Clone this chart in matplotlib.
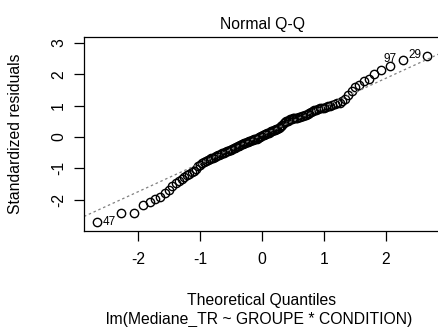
from statistics import NormalDist

import matplotlib
matplotlib.use("Agg")
import matplotlib.pyplot as plt
import numpy as np

plt.rcParams["font.family"] = ["Liberation Sans", "DejaVu Sans"]

# sorted standardized residuals (n = 128)
std_resid = [
    -2.72, -2.42, -2.41, -2.18, -2.09, -1.99, -1.90, -1.79, -1.68, -1.58,
    -1.47, -1.40, -1.33, -1.27, -1.22, -1.17, -1.13, -1.08, -1.02, -0.93,
    -0.88, -0.84, -0.81, -0.77, -0.74, -0.71, -0.68, -0.66, -0.64, -0.61,
    -0.59, -0.57, -0.54, -0.52, -0.50, -0.48, -0.46, -0.44, -0.42, -0.40,
    -0.38, -0.36, -0.34, -0.32, -0.30, -0.28, -0.26, -0.24, -0.22, -0.20,
    -0.18, -0.16, -0.15, -0.14, -0.12, -0.11, -0.10, -0.08, -0.07, -0.05,
    -0.03, -0.01, 0.01, 0.03, 0.05, 0.07, 0.09, 0.11, 0.13, 0.14,
    0.16, 0.18, 0.19, 0.21, 0.22, 0.24, 0.26, 0.28, 0.31, 0.35,
    0.39, 0.44, 0.48, 0.50, 0.52, 0.54, 0.56, 0.58, 0.59, 0.60,
    0.61, 0.62, 0.63, 0.645, 0.66, 0.67, 0.69, 0.71, 0.74, 0.77,
    0.80, 0.83, 0.85, 0.87, 0.89, 0.91, 0.93, 0.94, 0.96, 0.98,
    1.00, 1.02, 1.04, 1.07, 1.10, 1.15, 1.22, 1.33, 1.48, 1.58,
    1.66, 1.78, 1.86, 2.02, 2.14, 2.28, 2.45, 2.58,
]
# observation numbers of the flagged points (by rank in the sorted list)
point_ids = {0: "47", 126: "97", 127: "29"}

x_ticks = [-2, -1, 0, 1, 2]
y_ticks = [-2, -1, 0, 1, 2, 3]

n = len(std_resid)
nd = NormalDist()
theo = np.array([nd.inv_cdf((i - 0.5) / n) for i in range(1, n + 1)])
rs = np.array(std_resid)

fig = plt.figure(figsize=(4.38, 3.27), dpi=100)
W, H = 438, 327
FS = 11.3
ax = fig.add_axes([84 / W, (H - 231) / H, (440 - 84) / W, (231 - 37) / H])

ax.plot(theo, rs, "o", mfc="none", mec="black", ms=6.0, mew=1.0, clip_on=False)

# qqline through the quartiles, as R does
q1, q3 = np.quantile(rs, [0.25, 0.75])
z1, z3 = nd.inv_cdf(0.25), nd.inv_cdf(0.75)
slope = (q3 - q1) / (z3 - z1)
icpt = q1 - slope * z1
xl = np.array([-2.87, 2.87])
ax.plot(xl, icpt + slope * xl, color="#808080", lw=0.9, ls=(0, (2, 2.2)))

for k, lab in point_ids.items():
    if theo[k] < 0:
        ax.annotate(lab, (theo[k], rs[k]), xytext=(4, 0), textcoords="offset points",
                    ha="left", va="center", fontsize=8.5)
    else:
        ax.annotate(lab, (theo[k], rs[k]), xytext=(-4, 1), textcoords="offset points",
                    ha="right", va="center", fontsize=8.5)

ax.set_xlim(-2.87, 2.87)
ax.set_ylim(-3.0, 3.19)
ax.set_xticks(x_ticks)
ax.set_yticks(y_ticks)
ax.set_xticklabels([str(t) for t in x_ticks])
ax.set_yticklabels([str(t) for t in y_ticks], rotation=90, va="center")
ax.tick_params(direction="out", length=7, width=0.9, labelsize=FS)
ax.tick_params(axis="x", pad=8)
ax.tick_params(axis="y", pad=6)
for s in ax.spines.values():
    s.set_linewidth(0.9)

fig.text(262 / W, 1 - 25 / H, "Normal Q-Q", ha="center", va="center", fontsize=FS)
fig.text(262 / W, 1 - 300 / H, "Theoretical Quantiles", ha="center", va="center", fontsize=FS)
fig.text(259 / W, 1 - 319 / H, "lm(Mediane_TR ~ GROUPE * CONDITION)", ha="center",
         va="center", fontsize=FS)
fig.text(16 / W, 1 - 134 / H, "Standardized residuals", ha="center", va="center",
         rotation=90, fontsize=FS)

fig.savefig("out.png", dpi=100, facecolor="white")
